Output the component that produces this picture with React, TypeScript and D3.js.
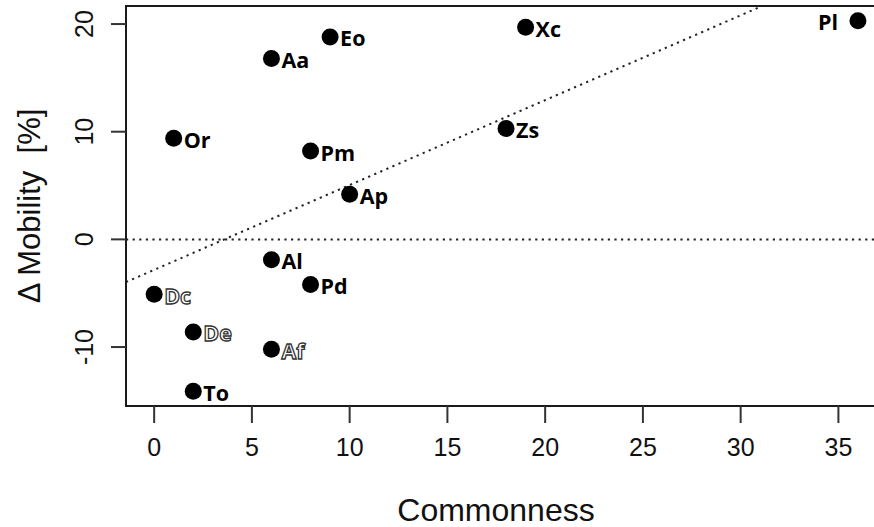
import React from "react";
import * as d3 from "d3";

const names = ["Pl", "Xc", "Eo", "Aa", "Or", "Zs", "Pm", "Ap", "Al", "Pd", "Dc", "De", "Af", "To"];
const commonness = [36, 19, 9, 6, 1, 18, 8, 10, 6, 8, 0, 2, 6, 2];
const mobility = [20.3, 19.7, 18.8, 16.8, 9.4, 10.3, 8.2, 4.2, -1.9, -4.2, -5.1, -8.6, -10.2, -14.1];
const hollowLabels = ["Dc", "De", "Af"];
const leftLabels = ["Pl"];
const xTicks = [0, 5, 10, 15, 20, 25, 30, 35];
const yTicks = [-10, 0, 10, 20];

const W = 874;
const H = 527;

export default function App() {
  const n = commonness.length;
  const xMin = d3.min(commonness)!, xMax = d3.max(commonness)!;
  const yMin = d3.min(mobility)!, yMax = d3.max(mobility)!;
  const xPad = (xMax - xMin) * 0.04;
  const yPad = (yMax - yMin) * 0.04;
  const plot = { left: 126, top: 6, bottom: 406 };
  const x = d3.scaleLinear().domain([xMin - xPad, xMax + xPad]).range([plot.left, plot.left + 19.55 * (xMax - xMin + 2 * xPad)]);
  const y = d3.scaleLinear().domain([yMin - yPad, yMax + yPad]).range([plot.bottom, plot.top]);
  const [x0, x1] = x.range();

  // least squares fit
  const mx = d3.mean(commonness)!;
  const my = d3.mean(mobility)!;
  let sxy = 0, sxx = 0;
  for (let i = 0; i < n; i++) {
    sxy += (commonness[i] - mx) * (mobility[i] - my);
    sxx += (commonness[i] - mx) ** 2;
  }
  const slope = sxy / sxx;
  const intercept = my - slope * mx;
  const [dx0, dx1] = x.domain();
  const fit = d3.line<number>().x((d) => x(d)).y((d) => y(intercept + slope * d));

  const labelFont = "'Open Sans', 'DejaVu Sans', sans-serif";
  const axisFont = "'Liberation Sans', Arial, sans-serif";

  return (
    <svg width={W} height={H} style={{ position: "absolute", left: 0, top: 0, background: "#fff" }}>
      <defs>
        <clipPath id="plotclip">
          <rect x={x0} y={plot.top} width={x1 - x0} height={plot.bottom - plot.top} />
        </clipPath>
      </defs>
      <rect x={0} y={0} width={W} height={H} fill="#fff" />
      <g clipPath="url(#plotclip)">
        <line x1={x0} x2={x1} y1={y(0)} y2={y(0)} stroke="#222" strokeWidth={2} strokeDasharray="2.2 4.4" />
        <path d={fit([dx0, dx1]) || ""} fill="none" stroke="#222" strokeWidth={2} strokeDasharray="2.2 4.4" />
      </g>
      <rect x={x0} y={plot.top} width={x1 - x0} height={plot.bottom - plot.top} fill="none" stroke="#1a1a1a" strokeWidth={2} />
      {xTicks.map((t) => (
        <g key={"xt" + t}>
          <line x1={x(t)} x2={x(t)} y1={plot.bottom} y2={plot.bottom + 17} stroke="#333" strokeWidth={2} />
          <text x={x(t)} y={456} textAnchor="middle" fontFamily={axisFont} fontSize={25} fill="#111">{t}</text>
        </g>
      ))}
      {yTicks.map((t) => (
        <g key={"yt" + t}>
          <line x1={plot.left} x2={plot.left - 15} y1={y(t)} y2={y(t)} stroke="#333" strokeWidth={2} />
          <text transform={`translate(93,${y(t)}) rotate(-90)`} textAnchor="middle" fontFamily={axisFont} fontSize={25} fill="#111">{t}</text>
        </g>
      ))}
      <text x={496} y={521} textAnchor="middle" fontFamily={axisFont} fontSize={32} fill="#111">Commonness</text>
      <text transform={`translate(40,${(plot.top + plot.bottom) / 2}) rotate(-90)`} textAnchor="middle" fontFamily={axisFont} fontSize={31} fill="#111" style={{ whiteSpace: "pre" }}>{"Δ Mobility  [%]"}</text>
      {names.map((nm, i) => {
        const cx = x(commonness[i]);
        const cy = y(mobility[i]);
        const left = leftLabels.includes(nm);
        const hollow = hollowLabels.includes(nm);
        return (
          <g key={nm}>
            <circle cx={cx} cy={cy} r={8.5} fill="#000" />
            <text
              x={left ? cx - 20 : cx + 10}
              y={cy + 9.5}
              textAnchor={left ? "end" : "start"}
              fontFamily={labelFont}
              fontWeight={700}
              fontSize={21.5}
              fill={hollow ? "#fff" : "#000"}
              stroke={hollow ? "#333" : "none"}
              strokeWidth={hollow ? 1.3 : 0}
            >
              {nm}
            </text>
          </g>
        );
      })}
    </svg>
  );
}
